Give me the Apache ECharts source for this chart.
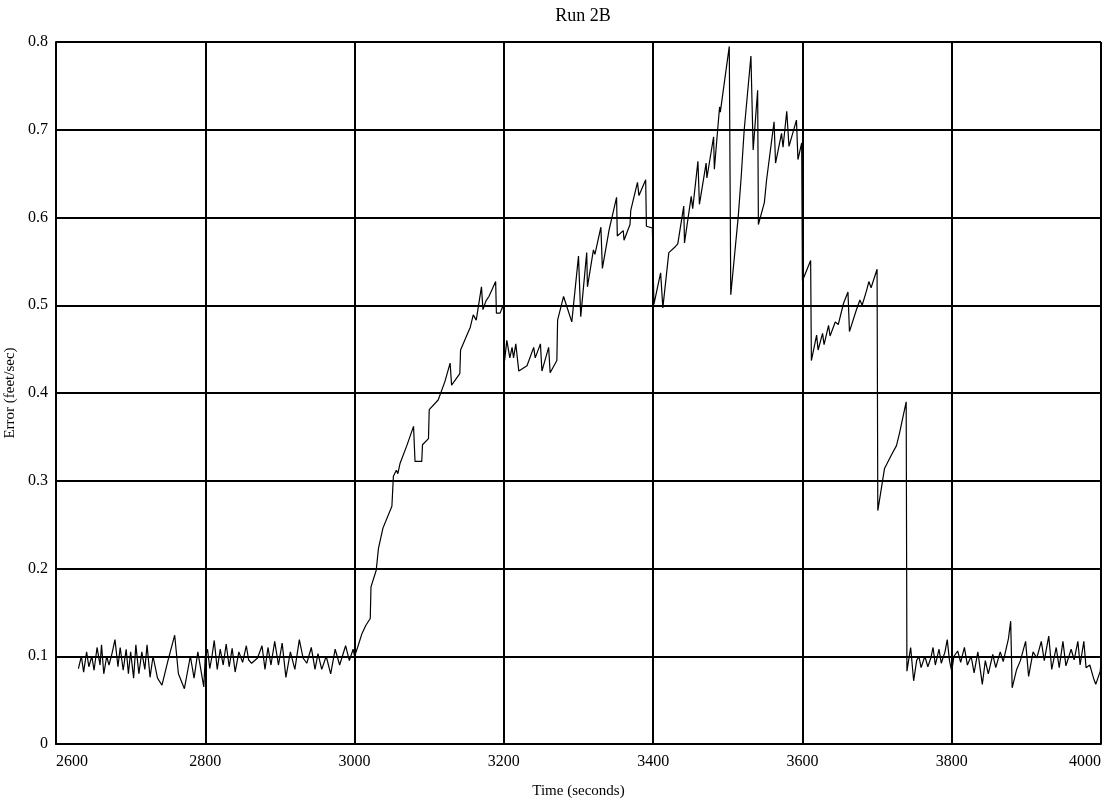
<!DOCTYPE html>
<html>
<head>
<meta charset="utf-8">
<script src="https://cdn.jsdelivr.net/npm/echarts@6/dist/echarts.min.js"></script>
<style>html,body{margin:0;padding:0;background:#fff}#c{width:1112px;height:807px}</style>
</head>
<body>
<div id="c"></div>
<script>
const chartTitle = "Run 2B";
const xAxisName = "Time (seconds)";
const yAxisName = "Error (feet/sec)";

const timeSec = [
2630,2634,2637,2641,2644,2648,2651,2655,2659,2661,2664,2668,2671,2675,2679,2683,2686,2690,2694,2697,2700,2704,2707,2711,2715,2719,2722,2726,2730,2736,2742,2750,2759,2764,2772,2780,2785,2790,2795,2798,
2800,2803,2806,2809,2812,2816,2820,2824,2828,2832,2836,2840,2845,2850,2855,2858,2862,2870,2876,2880,2884,2888,2893,2898,2903,2908,2914,2920,2926,2931,2936,2942,2947,2951,2956,2962,2968,2974,2980,2988,2993,2998,
3000,3004,3010,3015,3021,3022,3029,3032,3038,3050,3052,3056,3058,3061,3070,3079,3081,3090,3091,3099,3100,3112,3121,3128,3130,3141,3142,3150,3155,3159,3163,3170,3172,3176,3180,3189,3190,3195,3199,3200,3201,
3204,3208,3211,3213,3216,3220,3231,3240,3242,3249,3251,3260,3262,3271,3272,3280,3291,3300,3303,3311,3312,3320,3322,3330,3332,3341,3351,3352,3360,3361,3369,3370,3379,3381,3390,3391,3399,3401,
3410,3413,3421,3430,3433,3441,3442,3451,3453,3460,3462,3471,3472,3481,3482,3489,3490,3502,3504,3514,3518,3522,3531,3534,3540,3541,3549,3552,3562,3564,3572,3574,3579,3582,3592,3594,3599,3600,
3611,3612,3619,3621,3627,3629,3635,3637,3644,3648,3655,3661,3663,3672,3677,3680,3686,3689,3692,3700,3701,3710,3719,3726,3730,3739,
3740,3745,3749,3753,3756,3759,3764,3768,3772,3775,3778,3783,3786,3791,3794,3797,3800,3803,3808,3812,3817,3821,3826,3830,3835,3841,3845,3849,3855,3859,3865,3869,3876,3879,3881,3887,3892,3899,3903,3909,3914,3920,3924,3930,3934,3940,3944,3949,3953,3960,3964,3969,3972,3977,3980,3985,3990,3993,3999,4000
];

const errorFps = [
0.086,0.100,0.082,0.105,0.088,0.100,0.084,0.110,0.090,0.113,0.080,0.100,0.090,0.103,0.119,0.088,0.110,0.084,0.108,0.080,0.105,0.075,0.113,0.080,0.105,0.085,0.113,0.076,0.100,0.075,0.067,0.095,0.124,0.080,0.063,0.100,0.075,0.105,0.080,0.065,
0.100,0.108,0.086,0.100,0.118,0.085,0.108,0.090,0.114,0.088,0.109,0.082,0.105,0.093,0.112,0.096,0.092,0.098,0.112,0.085,0.110,0.090,0.117,0.090,0.115,0.076,0.105,0.085,0.119,0.098,0.092,0.110,0.085,0.103,0.085,0.100,0.080,0.108,0.090,0.112,0.095,0.108,
0.100,0.110,0.126,0.135,0.143,0.179,0.198,0.223,0.246,0.271,0.305,0.312,0.308,0.320,0.340,0.362,0.322,0.322,0.341,0.348,0.381,0.392,0.413,0.434,0.409,0.422,0.449,0.465,0.475,0.489,0.483,0.521,0.495,0.505,0.510,0.527,0.491,0.491,0.500,0.490,0.437,
0.460,0.440,0.452,0.440,0.456,0.425,0.431,0.452,0.440,0.456,0.425,0.452,0.423,0.437,0.483,0.510,0.481,0.556,0.487,0.560,0.521,0.563,0.558,0.589,0.542,0.586,0.623,0.579,0.585,0.574,0.592,0.608,0.640,0.625,0.643,0.590,0.588,0.501,
0.537,0.497,0.560,0.567,0.570,0.613,0.571,0.624,0.610,0.664,0.615,0.662,0.645,0.692,0.655,0.726,0.720,0.795,0.512,0.601,0.647,0.700,0.784,0.677,0.745,0.592,0.617,0.643,0.709,0.662,0.696,0.680,0.721,0.681,0.711,0.666,0.685,0.528,
0.551,0.437,0.466,0.449,0.468,0.455,0.477,0.465,0.481,0.478,0.502,0.515,0.470,0.494,0.506,0.500,0.517,0.527,0.520,0.541,0.266,0.314,0.329,0.340,0.354,0.390,
0.083,0.110,0.072,0.095,0.100,0.087,0.100,0.088,0.098,0.110,0.090,0.108,0.092,0.105,0.119,0.095,0.083,0.100,0.106,0.093,0.110,0.090,0.100,0.081,0.105,0.068,0.095,0.080,0.102,0.087,0.105,0.094,0.120,0.140,0.064,0.085,0.095,0.117,0.077,0.105,0.098,0.117,0.095,0.123,0.085,0.110,0.087,0.117,0.089,0.108,0.096,0.117,0.090,0.117,0.087,0.090,0.075,0.068,0.083,0.095
];

const seriesData = timeSec.map((t, i) => [t, errorFps[i]]);
const FONT = '"Liberation Serif", "Times New Roman", serif';

const chart = echarts.init(document.getElementById('c'), null, {renderer: 'canvas'});
chart.setOption({
  animation: false,
  backgroundColor: '#ffffff',
  title: {
    text: chartTitle, left: 578, top: 2, textAlign: 'center',
    textStyle: {fontFamily: FONT, fontSize: 18, fontWeight: 'normal', color: '#000'}
  },
  grid: {left: 56, right: 11, top: 42, bottom: 63, containLabel: false, outerBoundsMode: 'none'},
  xAxis: {
    type: 'value', min: 2600, max: 4000, interval: 200,
    name: xAxisName, nameLocation: 'middle', nameGap: 40,
    nameTextStyle: {fontFamily: FONT, fontSize: 15, color: '#000'},
    axisLine: {show: true, lineStyle: {color: '#000', width: 2}},
    axisTick: {show: false},
    axisLabel: {fontFamily: FONT, fontSize: 16, color: '#000', margin: 10,
      alignMinLabel: 'left', alignMaxLabel: 'right', formatter: v => String(v)},
    splitLine: {show: true, lineStyle: {color: '#000', width: 2}}
  },
  yAxis: {
    type: 'value', min: 0, max: 0.8, interval: 0.1,
    name: yAxisName, nameLocation: 'middle', nameGap: 36,
    nameTextStyle: {fontFamily: FONT, fontSize: 15, color: '#000'},
    axisLine: {show: true, lineStyle: {color: '#000', width: 2}},
    axisTick: {show: false},
    axisLabel: {fontFamily: FONT, fontSize: 16, color: '#000', margin: 8, formatter: v => String(+v.toFixed(1))},
    splitLine: {show: true, lineStyle: {color: '#000', width: 2}}
  },
  series: [{
    type: 'line', data: seriesData, showSymbol: false, symbol: 'none',
    lineStyle: {color: '#000', width: 1.2}, z: 5
  }]
});
</script>
</body>
</html>
